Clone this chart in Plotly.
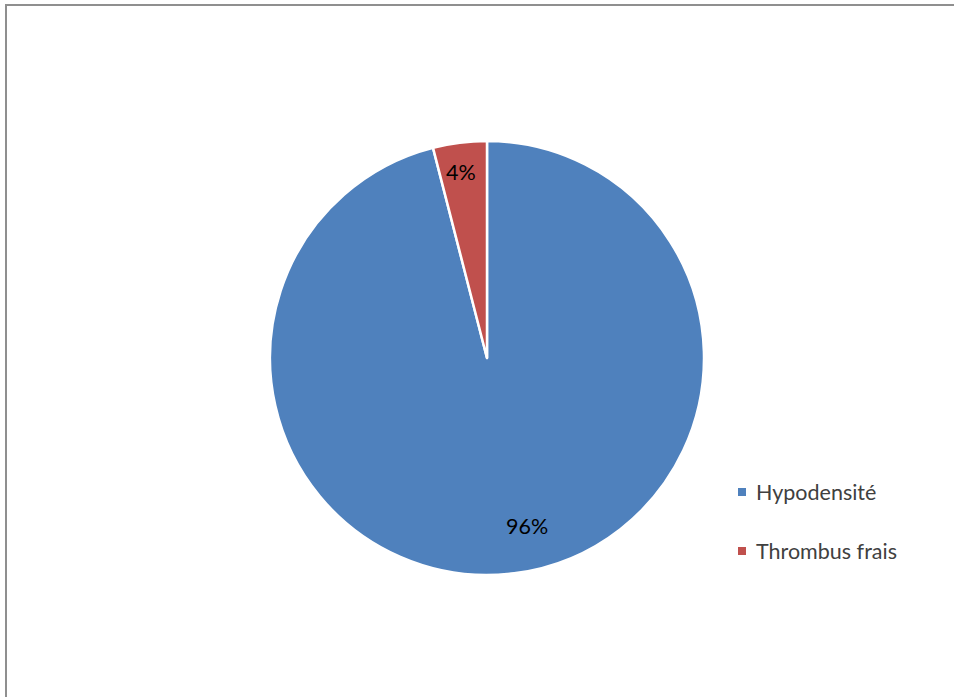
import plotly.graph_objects as go

# Slice data
labels = ["Hypodensité", "Thrombus frais"]
values = [96, 4]
colors = ["#4F81BD", "#C0504D"]

W, H = 954, 697
cx, cy, r = 487, 358, 217  # pie centre and radius in pixels


def px(x):
    return x / W


def py(y):
    return 1 - y / H


fig = go.Figure(
    go.Pie(
        labels=labels,
        values=values,
        sort=False,
        direction="clockwise",
        rotation=0,
        marker=dict(colors=colors, line=dict(color="white", width=2.5)),
        textinfo="none",
        hoverinfo="label+percent",
        showlegend=False,
        domain=dict(x=[px(cx - r), px(cx + r)], y=[py(cy + r), py(cy - r)]),
    )
)

total = sum(values)
pct = [f"{round(v / total * 100)}%" for v in values]

# Percentage labels inside the slices
label_pos = [(527, 526), (461, 172)]
for text, (x, y) in zip(pct, label_pos):
    fig.add_annotation(
        x=px(x), y=py(y), xref="paper", yref="paper",
        text=text, showarrow=False,
        font=dict(family="Lato", size=21.5, color="#000000"),
        xanchor="center", yanchor="middle",
    )

# Legend drawn as squares plus text
legend_y = [492, 551]
for lab, col, y in zip(labels, colors, legend_y):
    fig.add_shape(
        type="rect", xref="paper", yref="paper",
        x0=px(738), x1=px(746), y0=py(y + 4), y1=py(y - 4),
        fillcolor=col, line=dict(width=0),
    )
    fig.add_annotation(
        x=px(754), y=py(y), xref="paper", yref="paper",
        text=lab, showarrow=False,
        font=dict(family="Lato", size=21.5, color="#404040"),
        xanchor="left", yanchor="middle",
    )

# Chart area border
fig.add_shape(
    type="rect", xref="paper", yref="paper",
    x0=px(6), x1=px(W + 20), y0=py(H + 20), y1=py(5),
    line=dict(color="#8f8f8f", width=2), fillcolor="rgba(0,0,0,0)",
)

fig.update_layout(
    width=W, height=H,
    margin=dict(l=0, r=0, t=0, b=0),
    paper_bgcolor="white",
    plot_bgcolor="white",
)

fig.write_html("out.html")
